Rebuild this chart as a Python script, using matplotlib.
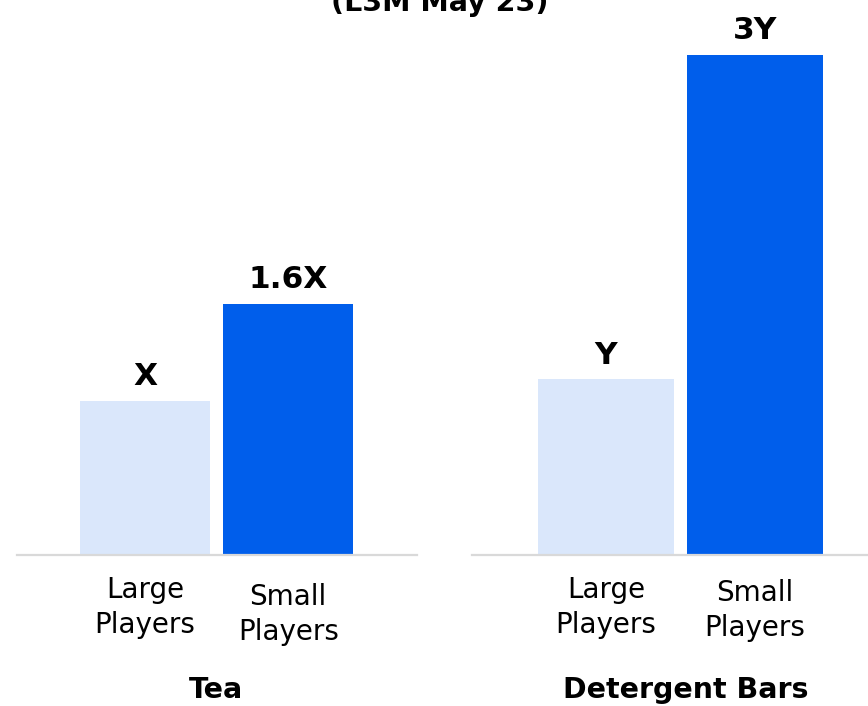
import matplotlib
matplotlib.use("Agg")
import matplotlib.pyplot as plt

# Data (relative units, Tea large players = 1)
categories = ["Large\nPlayers", "Small\nPlayers"]
groups = ["Tea", "Detergent Bars"]
tea_values = [1.0, 1.63]
detergent_values = [1.14, 3.25]
tea_labels = ["X", "1.6X"]
detergent_labels = ["Y", "3Y"]
title = "(L3M May 23)"

colors = ["#DAE7FB", "#005EEB"]
W, H = 868, 706
fig = plt.figure(figsize=(W / 100, H / 100), dpi=100)
plt.rcParams['font.family'] = ['DejaVu Sans']

def px(x0, y_bottom, x1, y_top):
    return [x0 / W, 1 - y_bottom / H, (x1 - x0) / W, (y_bottom - y_top) / H]

ymax = 555 / 154.0
ax1 = fig.add_axes(px(17, 555, 417, 0))
ax2 = fig.add_axes(px(472, 555, 868, 0))

panels = [
    (ax1, tea_values, tea_labels, 0.91, (-0.895, 1.90), [-38.0, -43.0]),
    (ax2, detergent_values, detergent_labels, 0.913, (-0.90, 1.76), [-38.0, -40.0]),
]
for ax, vals, labs, width, xl, offs in panels:
    xs = list(range(len(vals)))
    bars = ax.bar(xs, vals, width=width, color=colors, zorder=2)
    for b, lab in zip(bars, labs):
        ax.annotate(lab, xy=(b.get_x() + b.get_width() / 2, b.get_height()),
                    xytext=(0, 7), textcoords="offset points",
                    ha="center", va="bottom", fontsize=22.5, fontweight="bold",
                    color="#000000")
    for x, cat, off in zip(xs, categories, offs):
        ax.annotate(cat, xy=(x, 0), xytext=(0, off), textcoords="offset points",
                    ha="center", va="center", fontsize=20, linespacing=1.32,
                    color="#000000", annotation_clip=False)
    ax.set_xlim(*xl)
    ax.set_ylim(0, ymax)
    for s in ["top", "right", "left"]:
        ax.spines[s].set_visible(False)
    ax.spines["bottom"].set_color("#D9D9D9")
    ax.spines["bottom"].set_linewidth(1.6)
    ax.set_xticks([])
    ax.set_yticks([])

fig.text(216 / W, 1 - 690 / H, groups[0], ha="center", va="center",
         fontsize=20.5, fontweight="bold")
fig.text(686 / W, 1 - 690 / H, groups[1], ha="center", va="center",
         fontsize=20.5, fontweight="bold")
fig.text(440 / W, 1 - 11 / H, title, ha="center", va="baseline",
         fontsize=20.5, fontweight="bold")

fig.savefig("out.png", dpi=100)
